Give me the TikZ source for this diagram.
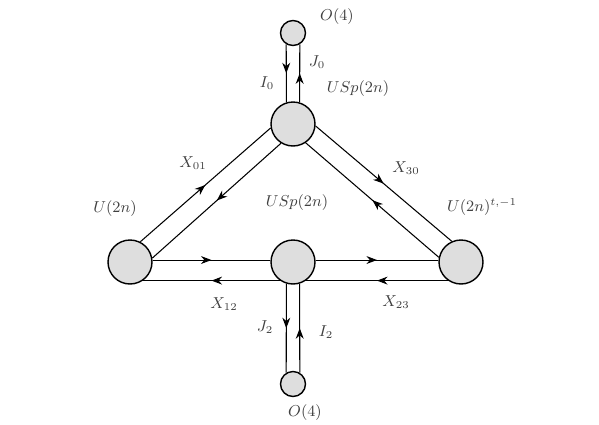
\documentclass[tikz,border=0pt]{standalone}
\usetikzlibrary{arrows.meta,decorations.markings}

\begin{document}
\begin{tikzpicture}[x=0.02cm,y=-0.02cm,
  gauge/.style={circle,draw,line width=0.8pt,fill=black!13,inner sep=0pt,minimum size=0.88cm},
  flav/.style={circle,draw,line width=0.8pt,fill=black!13,inner sep=0pt,minimum size=0.5cm},
  lab/.style={text=black!75,font=\small},
  mid/.style={line width=0.6pt,postaction={decorate},
    decoration={markings,mark=at position 0.5 with {\arrow{Stealth[length=6pt,width=4.5pt]}}}},
]
\useasboundingbox (0,0) rectangle (599,424);
% gauge and flavour nodes
\node[flav] (f0) at (293,33) {};
\node[gauge] (g0) at (293,124) {};
\node[gauge] (g1) at (130,262) {};
\node[gauge] (g2) at (293,262) {};
\node[gauge] (g3) at (461,262) {};
\node[flav] (f2) at (293,384) {};
% bifundamentals
\draw[mid] (f0.-121) -- (g0.107);
\draw[mid] (g0.73) -- (f0.-59);
\draw[mid] (g1.63) -- (g0.190);
\draw[mid] (g0.238) -- (g1.10);
\draw[mid] (g0.-5) -- (g3.114);
\draw[mid] (g3.168) -- (g0.-56);
\draw[mid] (g1.5) -- (g2.175);
\draw[mid] (g2.-125) -- (g1.-55);
\draw[mid] (g2.5) -- (g3.175);
\draw[mid] (g3.-125) -- (g2.-55);
\draw[mid] (g2.-107) -- (f2.121);
\draw[mid] (f2.59) -- (g2.-73);
% labels
\node[lab] (lf0) at (337,17) {$O(4)$};
\node[lab] (lj0) at (317,62) {$J_0$};
\node[lab] (li0) at (267,83) {$I_0$};
\node[lab] (lg0) at (358,89) {$USp(2n)$};
\node[lab] (lx01) at (193,163) {$X_{01}$};
\node[lab] (lg1) at (115,209) {$U(2n)$};
\node[lab] (lg2) at (297,203) {$USp(2n)$};
\node[lab] (lx30) at (406,168) {$X_{30}$};
\node[lab] (lg3) at (482,207) {$U(2n)^{t,-1}$};
\node[lab] (lx12) at (224,304) {$X_{12}$};
\node[lab] (lx23) at (396,302) {$X_{23}$};
\node[lab] (lj2) at (265,327) {$J_2$};
\node[lab] (li2) at (326,332) {$I_2$};
\node[lab] (lf2) at (305,413) {$O(4)$};
\end{tikzpicture}
\end{document}
